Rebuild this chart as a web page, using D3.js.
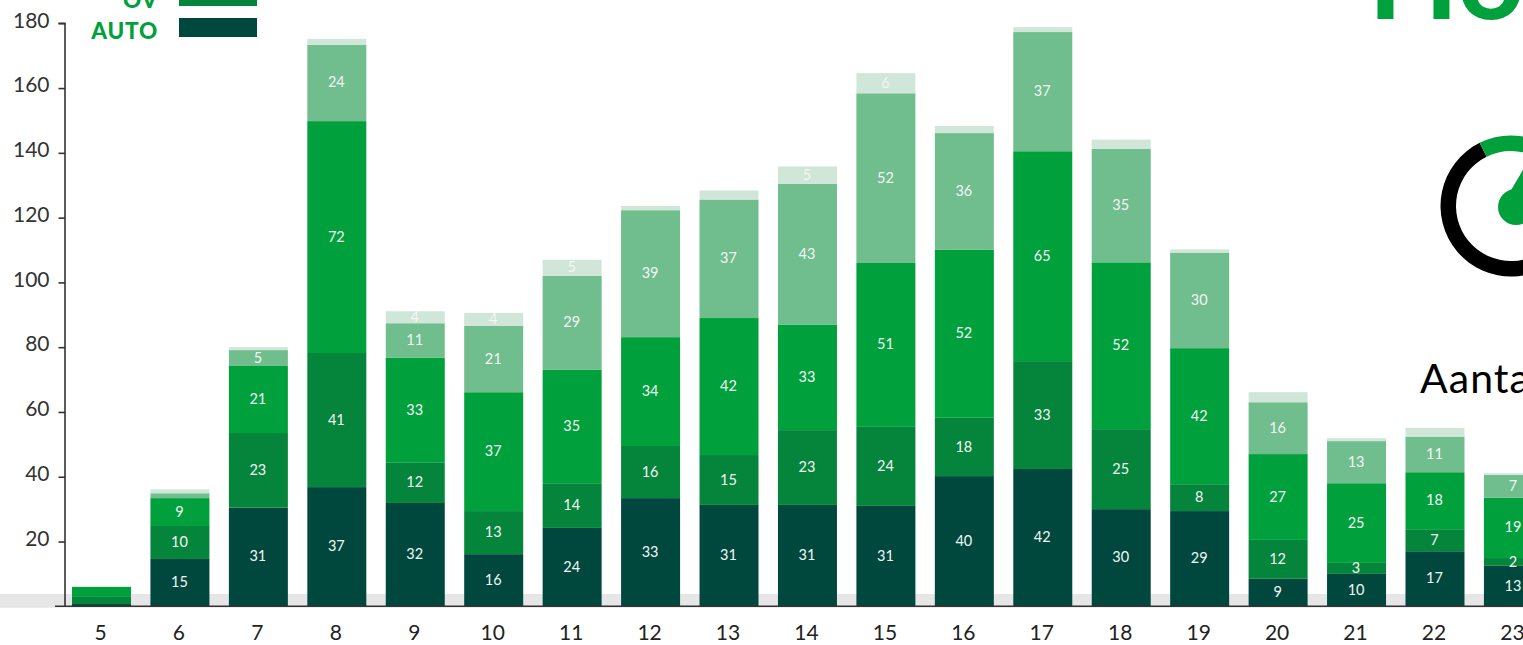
<!DOCTYPE html>
<html>
<head>
<meta charset="utf-8">
<script src="https://cdn.jsdelivr.net/npm/d3@7"></script>
<style>
html, body { margin: 0; padding: 0; background: #fff; overflow: hidden; }
svg { display: block; font-family: Lato, sans-serif; }
</style>
</head>
<body>
<div id="chart"></div>
<script>
var categories = ["5","6","7","8","9","10","11","12","13","14","15","16","17","18","19","20","21","22","23"];
var yTicks = [20,40,60,80,100,120,140,160,180];

// the labels are rounded so some stacks differ a bit
var auto =   [0.7,14.6,30.5,36.8,31.9,16.1,24.2,33.4,31.3,31.3,31.0,40.2,42.4,30.0,29.4,8.5,10.0,17.0,12.5];
var ov =     [2.2,10.2,23.0,41.4,12.4,13.3,13.8,16.1,15.4,23.1,24.4,18.0,33.3,24.7,8.3,12.0,3.4,6.8,2.4];
var serie3 = [3.1,8.6,20.7,71.6,32.5,36.7,35.0,33.6,42.3,32.6,50.6,51.9,64.8,51.5,42.0,26.5,24.6,17.6,18.6];
var serie4 = [0,1.5,4.9,23.6,10.6,20.5,29.0,39.2,36.6,43.4,52.4,36.0,36.8,35.1,29.5,16.0,13.0,11.0,7.1];
var serie5 = [0,1.2,0.9,1.8,3.7,4.0,5.0,1.3,2.8,5.4,6.2,2.2,1.5,2.8,1.0,3.1,0.9,2.7,0.5];

var seriesNames = ["auto","ov","serie3","serie4","serie5"];
var seriesColors = ["#00473e","#05843c","#00a03c","#70bd8e","#d0e6d8"];
var legendNames = ["OV","AUTO"];
var legendColors = ["#05843c","#00473e"];

var width = 1523;
var height = 645;

var svg = d3.select("#chart")
    .append("svg")
    .attr("width", width)
    .attr("height", height);

var table = categories.map(function (c, i) {
    return { cat: c, auto: auto[i], ov: ov[i], serie3: serie3[i], serie4: serie4[i], serie5: serie5[i] };
});

var x = d3.scaleBand()
    .domain(categories)
    .range([72, 72 + 78.44 * 18 + 59])
    .paddingInner(0.248)
    .paddingOuter(0);

var y = d3.scaleLinear()
    .domain([0, 180])
    .range([606.3, 23.3]);

// grey band behind the bars
svg.append("rect")
    .attr("x", 0)
    .attr("y", 594)
    .attr("width", width)
    .attr("height", 13.7)
    .attr("fill", "#e6e6e6");

var stacked = d3.stack().keys(seriesNames)(table);

var layers = svg.selectAll(".layer")
    .data(stacked)
    .enter()
    .append("g")
    .attr("class", "layer")
    .attr("fill", function (d, i) { return seriesColors[i]; });

layers.selectAll("rect")
    .data(function (d) { return d; })
    .enter()
    .append("rect")
    .attr("x", function (d) { return x(d.data.cat); })
    .attr("y", function (d) { return y(d[1]); })
    .attr("width", x.bandwidth())
    .attr("height", function (d) { return y(d[0]) - y(d[1]); });

// value labels: nothing on bar 5, and the upper two series only when they fit
stacked.forEach(function (layer) {
    svg.append("g").selectAll("text")
        .data(layer.filter(function (d) {
            var v = d[1] - d[0];
            if (d.data.cat === "5") return false;
            if (layer.key === "serie5") return v >= 3.5;
            if (layer.key === "serie4") return v >= 3.5;
            return v > 0;
        }))
        .enter()
        .append("text")
        .attr("x", function (d) { return x(d.data.cat) + x.bandwidth() / 2 - 0.5; })
        .attr("y", function (d) { return (y(d[0]) + y(d[1])) / 2 - 0.5; })
        .attr("dy", "0.35em")
        .attr("text-anchor", "middle")
        .attr("font-size", 14.5)
        .attr("fill", "#f2f7f4")
        .text(function (d) { return Math.round(d[1] - d[0]); });
});

// axes
var yAxis = svg.append("g")
    .attr("transform", "translate(65,0)")
    .call(d3.axisLeft(y).tickValues(yTicks).tickSize(6.5).tickPadding(9).tickFormat(d3.format("d")));
yAxis.selectAll("path, line").attr("stroke", "#333").attr("stroke-width", 1.6);
yAxis.select(".domain").attr("d", "M-6.5,23.3H0V606.3");
yAxis.selectAll("text")
    .attr("font-family", "Lato, sans-serif")
    .attr("font-size", 21)
    .attr("fill", "#333")
    .attr("dy", "0.18em");

svg.append("line")
    .attr("x1", 55)
    .attr("x2", width)
    .attr("y1", y(0))
    .attr("y2", y(0))
    .attr("stroke", "#333")
    .attr("stroke-width", 1.6);

var xAxis = svg.append("g")
    .attr("transform", "translate(-1,606.3)")
    .call(d3.axisBottom(x).tickSize(0).tickPadding(19));
xAxis.select(".domain").remove();
xAxis.selectAll("text")
    .attr("font-family", "Lato, sans-serif")
    .attr("font-size", 21)
    .attr("fill", "#222");

// legend, cut off by the top of the page
var legend = svg.selectAll(".legendItem")
    .data(legendNames)
    .enter()
    .append("g")
    .attr("class", "legendItem")
    .attr("transform", function (d, i) { return "translate(0," + (-13 + i * 31) + ")"; });

legend.append("rect")
    .attr("x", 179)
    .attr("y", 0)
    .attr("width", 78)
    .attr("height", 19)
    .attr("fill", function (d, i) { return legendColors[i]; });

legend.append("text")
    .attr("x", 158)
    .attr("y", 20.5)
    .attr("text-anchor", "end")
    .attr("font-size", 22.5)
    .attr("font-weight", 900)
    .attr("letter-spacing", 0.8)
    .attr("fill", "#00a03c")
    .text(function (d) { return d; });

// title and gauge on the right, both run off the page
svg.append("text")
    .attr("x", 1368)
    .attr("y", 19)
    .attr("font-size", 118)
    .attr("font-weight", 700)
    .attr("fill", "#00a03c")
    .text("Ho");

var gauge = svg.append("g").attr("transform", "translate(1511,206)");
var ring = d3.arc().innerRadius(55).outerRadius(70.5);
gauge.append("path")
    .attr("d", ring({ startAngle: Math.PI * 0.7, endAngle: Math.PI * 2 - 0.46 }))
    .attr("fill", "#000");
gauge.append("path")
    .attr("d", ring({ startAngle: -0.46, endAngle: 0.6 }))
    .attr("fill", "#00a03c");
gauge.append("circle")
    .attr("cx", 5)
    .attr("cy", 1)
    .attr("r", 18)
    .attr("fill", "#00a03c");
gauge.append("path")
    .attr("d", "M-1,-14L20,-50L30,0Z")
    .attr("fill", "#00a03c");

svg.append("text")
    .attr("x", 1420)
    .attr("y", 393)
    .attr("font-size", 41)
    .attr("letter-spacing", 1)
    .attr("fill", "#000")
    .text("Aantal");
</script>
</body>
</html>
